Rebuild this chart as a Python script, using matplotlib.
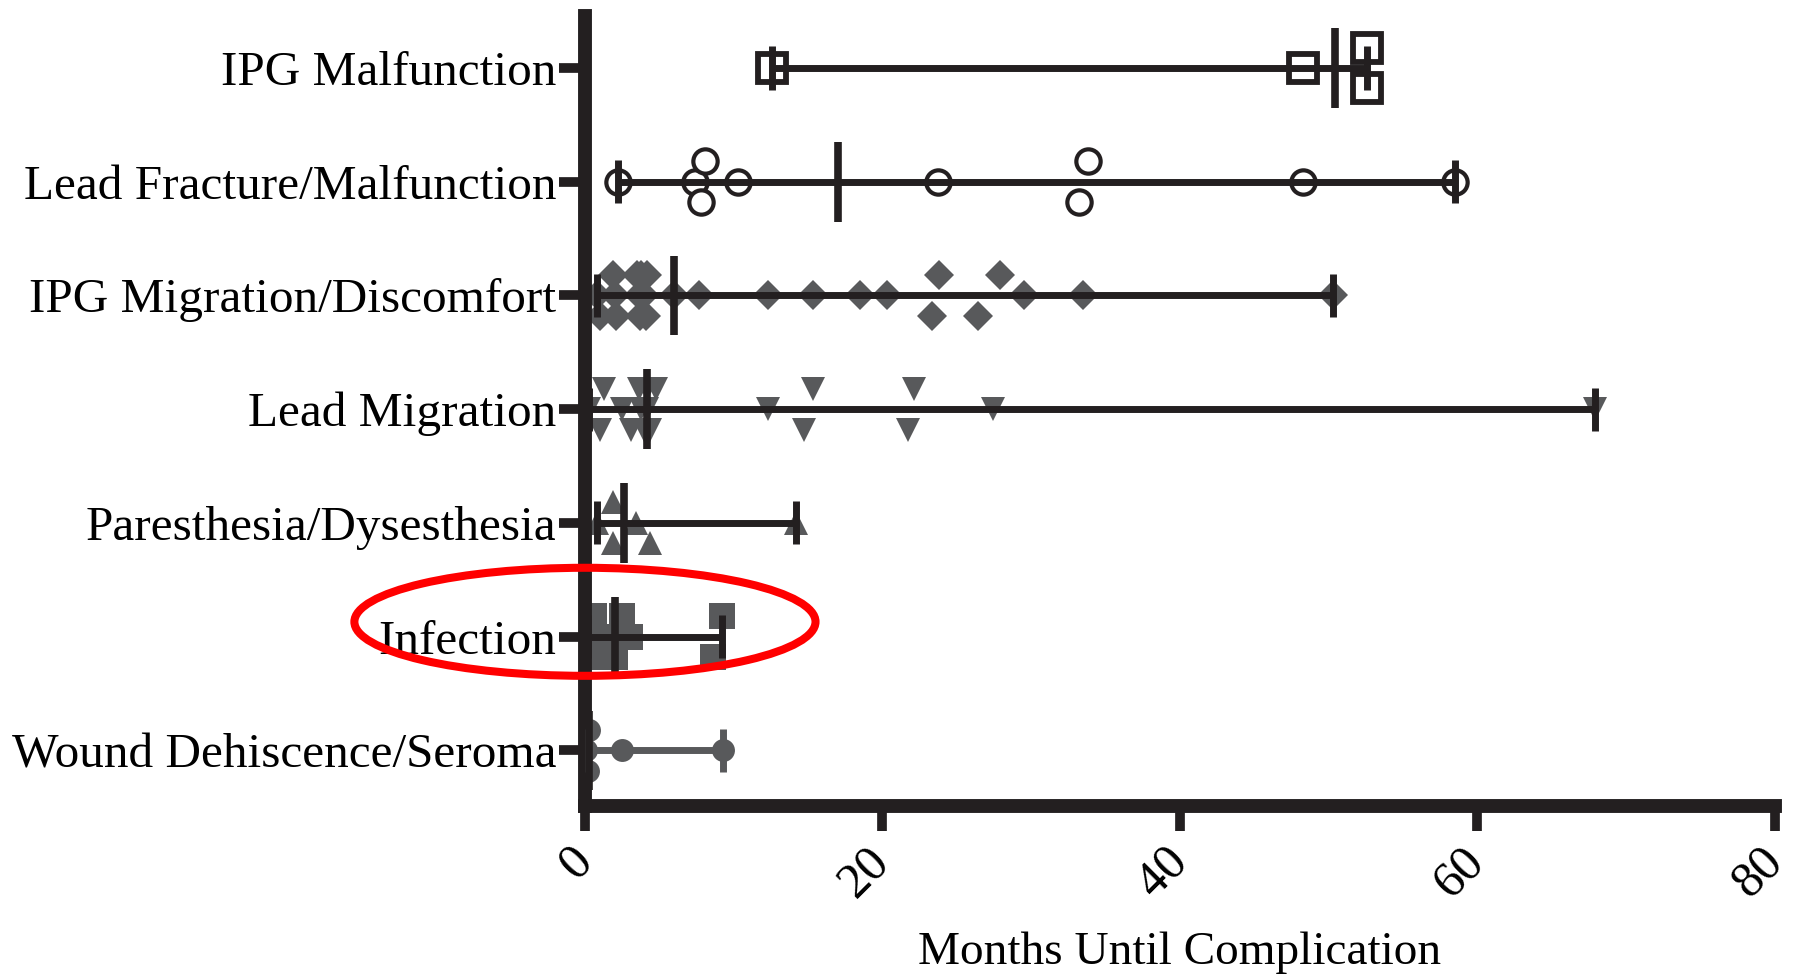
import numpy as np
import matplotlib
matplotlib.use('Agg')
import matplotlib.pyplot as plt
from matplotlib.patches import Ellipse

# complication types, top to bottom
categories = ['IPG Malfunction', 'Lead Fracture/Malfunction', 'IPG Migration/Discomfort',
              'Lead Migration', 'Paresthesia/Dysesthesia', 'Infection',
              'Wound Dehiscence/Seroma']

# months until complication
ipg_malfunction = [12.6, 48.3, 52.6, 52.6]
lead_fracture = [2.2, 7.4, 7.8, 8.1, 10.3, 23.7, 33.2, 33.8, 48.3, 58.5]
ipg_migration = [0.8, 1.0, 1.9, 2.0, 2.1, 3.5, 3.6, 3.7, 3.8, 4.0, 4.1, 4.2, 6.0, 7.7,
                 12.3, 15.3, 18.5, 20.3, 23.3, 23.8, 26.4, 27.9, 29.5, 33.5, 50.3]
lead_migration = [0.3, 1.0, 1.3, 2.5, 3.1, 3.6, 3.8, 4.0, 4.2, 4.2, 4.4, 4.8,
                  12.3, 14.7, 15.3, 21.7, 22.1, 27.4, 67.9]
paresthesia = [0.8, 1.9, 1.9, 3.4, 4.4, 14.2]
infection = [0.2, 0.4, 0.6, 1.7, 2.0, 2.5, 3.0, 8.6, 9.2]
wound = [0.1, 0.2, 0.3, 2.5, 9.3]

x_ticks = [0, 20, 40, 60, 80]
x_label = 'Months Until Complication'
highlight = 'Infection'

BLACK = '#231f20'
GRAY = '#58595b'

series = [ipg_malfunction, lead_fracture, ipg_migration, lead_migration,
          paresthesia, infection, wound]
styles = [
    dict(marker='s', ms=19.5, mfc='white', mec=BLACK, mew=4.2, line=BLACK),
    dict(marker='o', ms=17.5, mfc='white', mec=BLACK, mew=3.0, line=BLACK),
    dict(marker='D', ms=15, mfc=GRAY, mec=GRAY, mew=0, line=BLACK),
    dict(marker='v', ms=17, mfc=GRAY, mec=GRAY, mew=0, line=BLACK),
    dict(marker='^', ms=17, mfc=GRAY, mec=GRAY, mew=0, line=BLACK),
    dict(marker='s', ms=19, mfc=GRAY, mec=GRAY, mew=0, line=BLACK),
    dict(marker='o', ms=16.5, mfc=GRAY, mec=GRAY, mew=0, line=GRAY),
]


def spread_lanes(values, gap=1.6):
    # prism-like scatter: points closer than `gap` months get spread over 3 lanes
    v = np.sort(np.asarray(values, dtype=float))
    groups, cur = [], [v[0]]
    for a, b in zip(v[:-1], v[1:]):
        if b - a < gap:
            cur.append(b)
        else:
            groups.append(cur)
            cur = [b]
    groups.append(cur)
    lanes = []
    for g in groups:
        if len(g) == 2:
            lanes += [1, -1]
        else:
            lanes += [[0, 1, -1][k % 3] for k in range(len(g))]
    return v, np.array(lanes)


plt.rcParams['font.family'] = ['Liberation Serif', 'DejaVu Serif']

fig = plt.figure(figsize=(17.96, 9.77), dpi=100)
ax = fig.add_axes([0.3257, 0.175, 0.9883 - 0.3257, 0.9836 - 0.175])

lane_step = 0.18
for i, (vals, st) in enumerate(zip(series, styles)):
    v, lanes = spread_lanes(vals)
    ax.plot(v, i + lanes * lane_step, ls='none', marker=st['marker'], ms=st['ms'],
            mfc=st['mfc'], mec=st['mec'], mew=st['mew'], zorder=2)
    lo, hi, med = v.min(), v.max(), np.median(v)
    ax.hlines(i, lo, hi, color=st['line'], lw=5, zorder=3)
    ax.vlines([lo, hi], i - 0.19, i + 0.19, color=st['line'], lw=5, zorder=3)
    ax.vlines(med, i - 0.35, i + 0.35, color=BLACK, lw=5.5, zorder=3)

# red ring round the Infection row
row = categories.index(highlight)
ax.add_patch(Ellipse((0, row - 0.13), 31, 0.95, fill=False, ec='red', lw=5.8,
                     clip_on=False, zorder=10))

ax.set_xlim(0, 80)
ax.set_ylim(len(categories) - 0.51, -0.457)
ax.set_yticks(range(len(categories)))
ax.set_yticklabels(categories, fontsize=35.5)
ax.set_xticks(x_ticks)
ax.set_xticklabels([str(t) for t in x_ticks], fontsize=36, rotation=45,
                   rotation_mode='anchor', ha='right', va='center')
ax.set_xlabel(x_label, fontsize=34, labelpad=18)

for side in ['top', 'right']:
    ax.spines[side].set_visible(False)
for side in ['left', 'bottom']:
    ax.spines[side].set_linewidth(10)
    ax.spines[side].set_color(BLACK)
ax.tick_params(axis='y', direction='out', length=18.7, width=7, color=BLACK, pad=2)
ax.tick_params(axis='x', direction='out', length=18, width=7, color=BLACK, pad=17)

fig.savefig('out.png', dpi=100, facecolor='white')
